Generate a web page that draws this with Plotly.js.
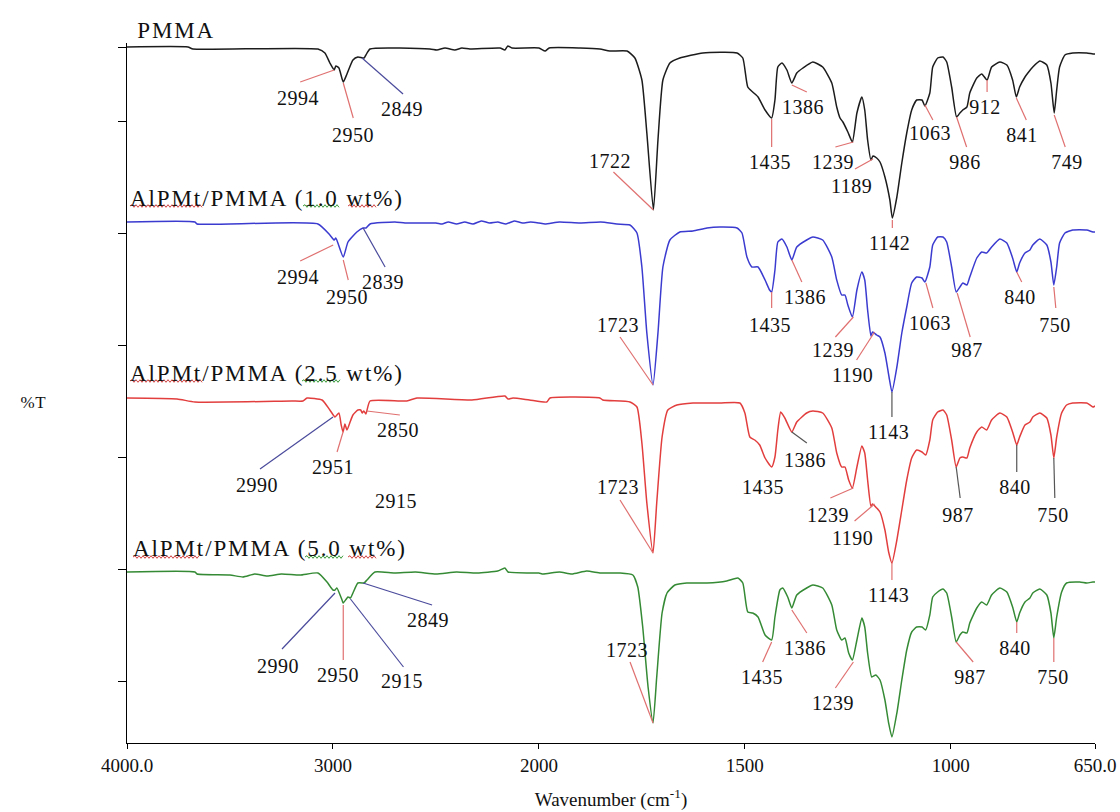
<!DOCTYPE html>
<html>
<head>
<meta charset="utf-8">
<script src="https://cdn.plot.ly/plotly-3.0.1.min.js"></script>
<style>html,body{margin:0;padding:0;background:#fff}</style>
</head>
<body>
<div id="chart" style="width:1120px;height:812px"></div>
<script>
// FTIR spectra of PMMA and AlPMt/PMMA composites, stacked (offset %T, a.u.)

const seriesNames = ['PMMA', 'AlPMt/PMMA (1.0 wt%)', 'AlPMt/PMMA (2.5 wt%)', 'AlPMt/PMMA (5.0 wt%)'];

const wnPMMA = [4000,3704,3680,3073,3039,3015,2994,2986,2971,2950,2932,2903,2879,2849,2840,2820,2529,2495,2456,2408,2374,2335,2189,2165,2151,2131,2000,1985,1975,1900,1852,1828,1786,1767,1750,1738,1722,1711,1699,1682,1658,1602,1519,1505,1493,1481,1468,1451,1435,1427,1420,1410,1398,1386,1374,1359,1335,1311,1289,1277,1269,1262,1250,1239,1228,1216,1209,1202,1194,1189,1180,1172,1160,1148,1142,1131,1119,1107,1095,1083,1070,1063,1051,1044,1032,1019,1010,998,986,978,971,961,954,937,925,912,901,881,864,850,841,833,820,813,801,784,767,757,749,743,736,723,704,670,655,650];
const tPMMA  = [696,696,694,694,690,680,673,677,675,661,669,683,686,685,688,694,694,693,695,693,695,694,695,693,697,695,695,692,695,695,694,692,692,685,663,610,533,603,663,680,685,690,690,685,656,651,646,633,625,643,676,680,673,660,670,675,681,676,660,636,625,621,611,601,630,646,633,603,583,587,585,581,566,543,525,546,580,610,633,643,643,637,650,676,685,686,681,656,626,630,633,636,650,665,669,663,676,681,678,663,646,656,666,670,676,682,678,660,630,653,676,688,690,690,689,689];

const wn10 = [4000,3670,3660,3073,3015,2994,2986,2950,2927,2884,2854,2839,2820,2699,2650,2500,2470,2440,2400,2360,2320,2280,2240,2200,2160,2120,2080,2040,2000,1985,1950,1900,1850,1811,1779,1762,1750,1738,1723,1711,1699,1682,1658,1626,1592,1561,1519,1507,1495,1483,1468,1451,1440,1435,1427,1420,1410,1398,1386,1374,1350,1335,1311,1289,1277,1265,1257,1250,1239,1228,1216,1209,1202,1194,1190,1180,1172,1160,1150,1143,1131,1119,1107,1095,1083,1070,1063,1051,1044,1032,1019,1010,998,987,978,971,961,954,937,925,913,901,881,864,850,840,833,820,808,801,784,767,757,750,743,736,723,704,670,655,650];
const t10  = [521,521,519,519,508,503,505,486,501,511,515,515,519,521,520,520,519,521,519,521,519,522,520,521,519,522,520,521,520,519,521,520,521,519,518,510,476,410,358,410,476,503,511,512,515,516,515,510,486,476,476,463,453,451,473,501,504,496,483,496,503,506,503,486,463,448,448,438,426,453,471,463,433,407,411,408,406,390,366,351,376,410,436,460,466,465,461,476,498,506,506,501,476,451,456,460,458,466,485,491,490,496,504,500,485,471,480,490,493,498,504,498,481,458,476,500,510,513,513,511,511];

const wn25 = [4000,3757,3670,3200,3146,3126,3053,3015,2990,2971,2960,2951,2942,2932,2915,2903,2879,2865,2858,2850,2840,2820,2641,2592,2325,2165,2150,2126,2046,1981,1973,1852,1845,1779,1762,1750,1738,1723,1714,1701,1687,1665,1626,1561,1512,1500,1488,1476,1464,1451,1435,1427,1420,1413,1403,1386,1374,1350,1335,1311,1289,1277,1265,1257,1248,1239,1228,1216,1209,1202,1194,1190,1180,1172,1160,1151,1143,1131,1119,1107,1095,1083,1070,1061,1051,1044,1032,1019,1010,998,987,978,971,961,954,937,925,913,901,881,864,850,840,833,820,808,801,784,767,757,750,743,731,719,704,670,655,650];
const t25  = [345,344,341,342,342,345,343,333,326,330,318,311,319,313,322,328,333,333,330,332,329,342,342,345,343,347,344,345,343,341,345,345,343,341,336,300,240,190,240,306,333,338,340,340,340,330,306,303,298,285,276,286,313,331,325,311,321,330,332,330,315,290,276,276,263,255,276,297,290,263,237,239,235,231,213,191,180,203,233,263,285,293,291,288,303,323,331,333,328,303,276,285,286,285,295,311,316,313,323,330,326,311,298,306,318,321,326,330,325,308,285,306,330,338,340,340,336,337];

const wn50 = [4000,3670,3660,3500,3437,3380,3320,3250,3160,3073,3029,3000,2990,2981,2956,2950,2927,2915,2903,2879,2854,2849,2835,2796,2700,2600,2500,2400,2300,2200,2165,2150,2046,2000,1990,1950,1920,1884,1850,1803,1772,1760,1748,1735,1723,1714,1701,1689,1670,1641,1592,1544,1517,1505,1493,1481,1468,1451,1435,1427,1415,1408,1396,1386,1374,1350,1335,1311,1289,1277,1265,1257,1248,1239,1228,1216,1209,1202,1192,1182,1172,1160,1151,1143,1131,1119,1107,1095,1083,1070,1061,1051,1044,1032,1019,1010,998,987,978,971,961,954,937,925,913,901,881,864,850,840,833,820,808,801,784,767,757,750,743,731,719,687,670,655,650];
const t50  = [171,171,169,168,166,169,167,169,168,170,161,153,153,155,143,140,146,145,150,160,160,160,163,171,170,171,169,171,170,172,175,171,170,170,169,171,169,172,170,170,168,156,116,56,20,66,130,150,158,160,160,162,165,160,131,130,126,108,103,126,153,155,146,135,148,155,158,155,138,113,103,105,90,83,103,125,116,90,66,68,63,43,20,6,30,63,93,111,116,116,113,128,146,151,154,150,126,101,108,111,110,120,135,141,138,148,155,151,136,121,130,141,145,150,154,148,130,105,126,151,160,161,160,161,161];

// Labelled band positions (cm-1) for each spectrum
const peaksPMMA = [2994,2950,2849,1722,1435,1386,1239,1189,1142,1063,986,912,841,749];
const peaks10   = [2994,2950,2839,1723,1435,1386,1239,1190,1143,1063,987,840,750];
const peaks25   = [2990,2951,2850,2915,1723,1435,1386,1239,1190,1143,987,840,750];
const peaks50   = [2990,2950,2915,2849,1723,1435,1386,1239,987,840,750];

// Tick labels of the wavenumber axis
const xTickWn = [4000,3000,2000,1500,1000,650];
const xTickText = ['4000.0','3000','2000','1500','1000','650.0'];

// ---- drawing ----
// The wavenumber axis is drawn at half scale above 2000 cm-1.
function axisPos(w) { return w >= 2000 ? 4000 - w : 2000 + 2 * (2000 - w); }
function valueAt(wn, t, w) {
  for (let i = 0; i < wn.length - 1; i++) {
    const a = wn[i], b = wn[i + 1];
    if (w <= a && w >= b) {
      const f = a === b ? 0 : (a - w) / (a - b);
      return t[i] + f * (t[i + 1] - t[i]);
    }
  }
  return t[t.length - 1];
}

const spectra = [
  {wn: wnPMMA, t: tPMMA, peaks: peaksPMMA, color: '#1c1c1c'},
  {wn: wn10, t: t10, peaks: peaks10, color: '#3b3bd0'},
  {wn: wn25, t: t25, peaks: peaks25, color: '#e23e3e'},
  {wn: wn50, t: t50, peaks: peaks50, color: '#358a35'}
];

// Leader line [x0,y0,x1,y1] and text offset [dx,dy], screen pixels (y down), per peak label
const leaderColors = {r: '#e07070', b: '#4a4a9c', k: '#555555'};
const labelLayout = [
  [ ['r',[0,0,-34,12],[-36,28]], ['r',[0,1,10,36],[10,53]], ['b',[-2,0,39,36],[38,51]], ['r',[0,0,-40,-38],[-43,-49]],
    ['r',[0,1,0,29],[-2,44]], ['r',[0,2,15,9],[11,24]], ['r',[1,0,-17,5],[-19,20]], ['r',[0,3,-18,13],[-21,30]],
    ['r',[0,2,0,10],[-3,25]], ['r',[0,-1,8,14],[5,27]], ['r',[0,0,10,30],[8,45]], ['r',[0,0,0,12],[-2,27]],
    ['r',[0,1,10,23],[6,38]], ['r',[0,2,11,34],[13,49]] ],
  [ ['r',[-1,5,-34,21],[-36,37]], ['r',[0,3,5,23],[4,40]], ['b',[-3,0,19,39],[17,54]], ['r',[0,0,-33,-48],[-35,-60]],
    ['r',[0,0,0,16],[-2,33]], ['r',[0,0,10,22],[13,37]], ['r',[1,0,-17,20],[-19,33]], ['r',[2,0,-16,28],[-20,43]],
    ['k',[0,0,0,25],[-3,40]], ['r',[1,1,8,26],[5,41]], ['r',[1,1,14,45],[11,58]], ['r',[0,0,5,10],[3,25]],
    ['r',[0,2,2,23],[1,40]] ],
  [ ['b',[-2,0,-75,52],[-78,68]], ['r',[0,0,-6,20],[-10,35]], ['r',[3,0,36,4],[34,19]], [null,null,[46,80]],
    ['r',[0,0,-33,-53],[-35,-66]], [null,null,[-9,20]], ['k',[0,0,15,11],[13,28]], ['r',[1,0,-22,10],[-24,27]],
    ['r',[2,0,-18,17],[-20,34]], ['r',[0,0,0,17],[-3,32]], ['k',[0,0,4,31],[2,48]], ['k',[0,0,0,27],[-2,42]],
    ['k',[0,0,1,40],[-1,57]] ],
  [ ['b',[0,3,-53,59],[-57,76]], ['r',[0,2,0,57],[-5,72]], ['b',[0,1,53,69],[52,83]], ['b',[-1,0,68,22],[64,37]],
    ['r',[0,0,-23,-61],[-26,-73]], ['r',[0,2,-9,22],[-10,37]], ['r',[0,2,15,25],[13,40]], ['r',[1,2,-17,28],[-19,43]],
    ['r',[0,0,17,20],[14,35]], ['r',[0,0,0,11],[-2,26]], ['r',[0,0,0,24],[-1,39]] ]
];
const nameShift = [[12,17],[20,24],[20,25],[23,24]];

// Proofing underlines beneath the series names: [colour, x from, x to, height above baseline]
const squiggles = [
  [],
  [['#d04040',3,75,16], ['#3a9a3a',176,212,16], ['#d04040',221,250,16]],
  [['#d04040',3,75,17], ['#3a9a3a',175,214,17]],
  [['#d04040',6,73,15], ['#3a9a3a',178,217,15], ['#d04040',221,250,15]]
];
function wavyPath(x0, x1, yc) {
  let d = 'M' + x0 + ',' + yc, up = true;
  for (let x = x0 + 2; x <= x1; x += 2) { d += ' L' + x + ',' + (yc + (up ? 1.3 : -1.3)); up = !up; }
  return d;
}

const FONT = 'Liberation Serif, Times New Roman, serif';
const traces = [], shapes = [], annotations = [];

spectra.forEach((s, i) => {
  traces.push({
    type: 'scatter', mode: 'lines', name: seriesNames[i],
    x: s.wn.map(axisPos), y: s.t,
    line: {color: s.color, width: 1.5, shape: 'spline', smoothing: 0.5},
    hoverinfo: 'skip', showlegend: false
  });
  annotations.push({
    xref: 'x', yref: 'y', x: axisPos(s.wn[0]), y: s.t[0],
    text: seriesNames[i], showarrow: false, xanchor: 'left', yanchor: 'middle',
    xshift: nameShift[i][0], yshift: nameShift[i][1],
    font: {family: FONT, size: 23, color: '#111'}
  });
  squiggles[i].forEach(([c, a, b, h]) => {
    shapes.push({
      type: 'path', xref: 'x', yref: 'y', xsizemode: 'pixel', ysizemode: 'pixel',
      xanchor: axisPos(s.wn[0]), yanchor: s.t[0], path: wavyPath(a, b, h),
      line: {color: c, width: 1}
    });
  });
  s.peaks.forEach((wn, k) => {
    const [c, ln, tx] = labelLayout[i][k];
    const xa = axisPos(wn), ya = valueAt(s.wn, s.t, wn);
    if (c) {
      shapes.push({
        type: 'line', xref: 'x', yref: 'y', xsizemode: 'pixel', ysizemode: 'pixel',
        xanchor: xa, yanchor: ya, x0: ln[0], y0: -ln[1], x1: ln[2], y1: -ln[3],
        line: {color: leaderColors[c], width: 1.2}
      });
    }
    annotations.push({
      xref: 'x', yref: 'y', x: xa, y: ya, text: String(wn), showarrow: false,
      xanchor: 'center', yanchor: 'middle', xshift: tx[0], yshift: -tx[1],
      font: {family: FONT, size: 20, color: '#111'}
    });
  });
});

annotations.push({
  xref: 'paper', yref: 'paper', x: -0.097, y: 0.486, text: '%T', showarrow: false,
  xanchor: 'center', yanchor: 'middle', font: {family: FONT, size: 17, color: '#111'}
});

const layout = {
  width: 1120, height: 812,
  margin: {l: 127, r: 25, t: 43, b: 69},
  paper_bgcolor: '#fff', plot_bgcolor: '#fff',
  font: {family: FONT, size: 19, color: '#111'},
  xaxis: {
    range: [0, 4700], tickvals: xTickWn.map(axisPos), ticktext: xTickText,
    showline: true, linecolor: '#000', linewidth: 1, ticks: 'outside', ticklen: 5, tickcolor: '#000',
    showgrid: false, zeroline: false, tickfont: {family: FONT, size: 19, color: '#111'},
    title: {text: 'Wavenumber (cm<sup>-1</sup>)', font: {family: FONT, size: 19, color: '#111'}, standoff: 17}
  },
  yaxis: {
    range: [0, 700], tickvals: [62,174,286,398,510,622,696],
    showticklabels: false, showline: true, linecolor: '#000', linewidth: 1,
    ticks: 'outside', ticklen: 8, tickcolor: '#000', showgrid: false, zeroline: false
  },
  shapes: shapes,
  annotations: annotations,
  showlegend: false
};

Plotly.newPlot('chart', traces, layout, {staticPlot: true, displayModeBar: false}).then(() => {
  // widen the lettering slightly, as in the Times-set figure text
  document.querySelectorAll('#chart .annotation-text').forEach(el => {
    const name = seriesNames.indexOf(el.textContent) >= 0;
    el.style.letterSpacing = name ? '1.9px' : '0.5px';
  });
});
</script>
</body>
</html>
